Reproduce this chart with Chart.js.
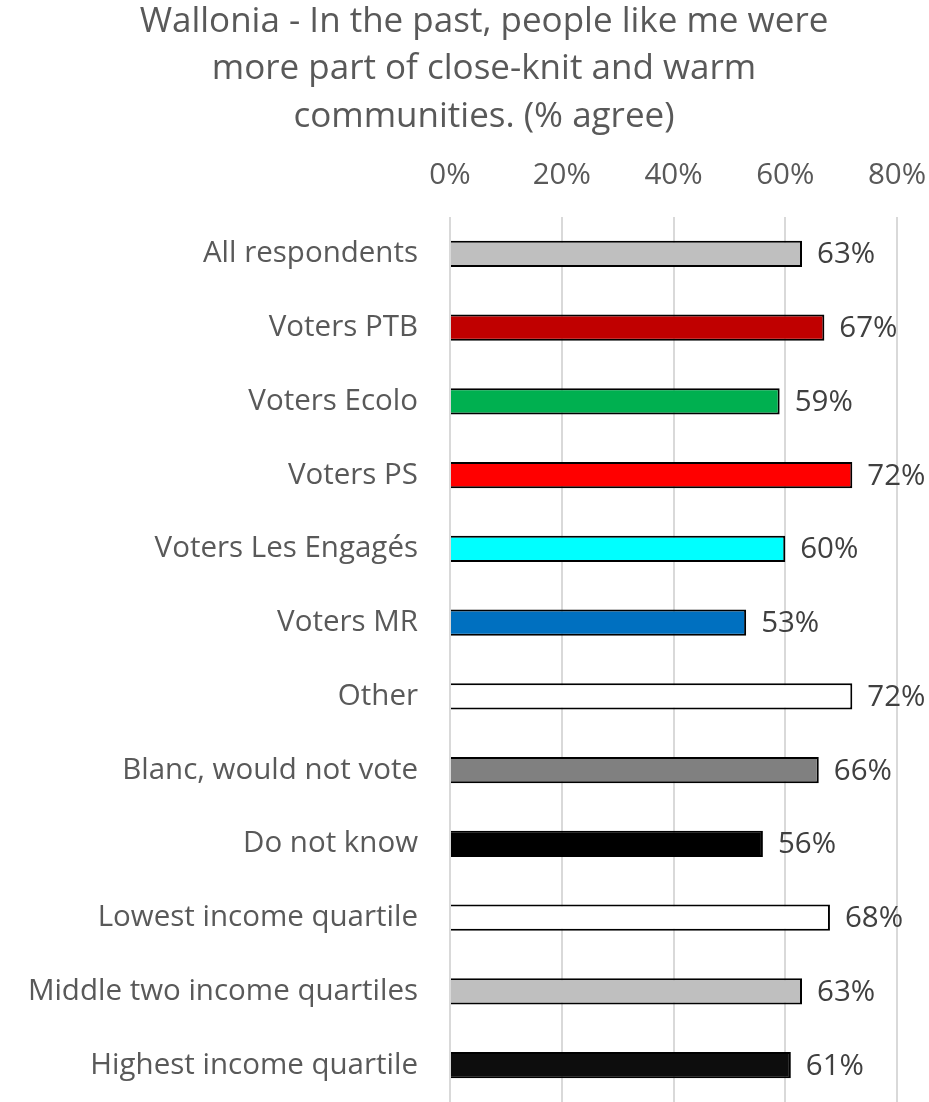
<!DOCTYPE html>
<html>
<head>
<meta charset="utf-8">
<script src="https://cdn.jsdelivr.net/npm/chart.js@4"></script>
<style>
  html, body { margin: 0; padding: 0; background: #fff; }
  #wrap { width: 929px; height: 1102px; }
</style>
</head>
<body>
<div id="wrap"><canvas id="chart"></canvas></div>
<script>
const categories = [
  "All respondents", "Voters PTB", "Voters Ecolo", "Voters PS",
  "Voters Les Engagés", "Voters MR", "Other", "Blanc, would not vote",
  "Do not know", "Lowest income quartile", "Middle two income quartiles",
  "Highest income quartile"
];
const agreePct = [63, 67, 59, 72, 60, 53, 72, 66, 56, 68, 63, 61];
const barColors = [
  "#bfbfbf", "#c00000", "#00b050", "#ff0000", "#00ffff", "#0070c0",
  "#ffffff", "#808080", "#000000", "#ffffff", "#bfbfbf", "#0d0d0d"
];
const tickValues = [0, 20, 40, 60, 80];
const titleLines = [
  "Wallonia - In the past, people like me were",
  "more part of close-knit and warm",
  "communities. (% agree)"
];

const FONT = "'Open Sans', 'Liberation Sans', Arial, sans-serif";

// title drawn by hand so it can sit a bit right of the canvas centre, like the original
const chartTitle = {
  id: "chartTitle",
  afterDraw(chart) {
    const ctx = chart.ctx;
    ctx.save();
    ctx.font = "35px " + FONT;
    ctx.fillStyle = "#595959";
    ctx.textAlign = "center";
    ctx.textBaseline = "middle";
    titleLines.forEach((line, i) => {
      ctx.fillText(line, 484, 22 + i * 47.5);
    });
    ctx.restore();
  }
};

// value labels to the right of each bar
const valueLabels = {
  id: "valueLabels",
  afterDatasetsDraw(chart) {
    const ctx = chart.ctx;
    const meta = chart.getDatasetMeta(0);
    ctx.save();
    ctx.font = "29.5px " + FONT;
    ctx.fillStyle = "#404040";
    ctx.textAlign = "left";
    ctx.textBaseline = "middle";
    meta.data.forEach((bar, i) => {
      ctx.fillText(agreePct[i] + "%", bar.x + 15, bar.y + 1);
    });
    ctx.restore();
  }
};

new Chart(document.getElementById("chart"), {
  type: "bar",
  data: {
    labels: categories,
    datasets: [{
      data: agreePct,
      backgroundColor: barColors,
      borderColor: "#000000",
      borderWidth: 2,
      barPercentage: 0.353,
      categoryPercentage: 1
    }]
  },
  options: {
    indexAxis: "y",
    responsive: true,
    maintainAspectRatio: false,
    animation: false,
    layout: { padding: { left: 0, right: 32, top: 158, bottom: -3 } },
    plugins: {
      legend: { display: false },
      tooltip: { enabled: false },
      title: { display: false }
    },
    scales: {
      x: {
        position: "top",
        min: 0,
        max: 80,
        afterBuildTicks(scale) {
          scale.ticks = tickValues.map(v => ({ value: v }));
        },
        afterFit(scale) {
          scale.paddingLeft = 0;
          scale.paddingRight = 0;
          scale.height = 59;
        },
        ticks: {
          color: "#595959",
          font: { family: FONT, size: 29.5 },
          padding: 24,
          callback: v => v + "%"
        },
        grid: { color: "#d9d9d9", lineWidth: 2, drawTicks: false },
        border: { display: false }
      },
      y: {
        afterFit(scale) {
          scale.width = 450;
          scale.paddingTop = 0;
          scale.paddingBottom = 0;
        },
        ticks: {
          color: "#595959",
          font: { family: FONT, size: 29.5 },
          padding: 24
        },
        grid: { display: false },
        border: { display: false }
      }
    }
  },
  plugins: [valueLabels, chartTitle]
});
</script>
</body>
</html>
